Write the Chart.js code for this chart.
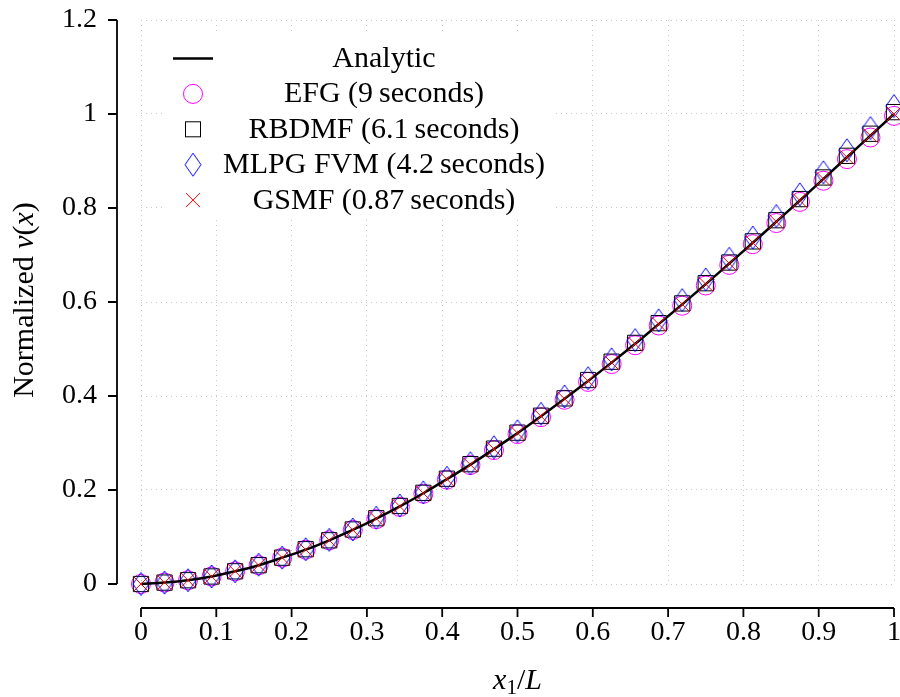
<!DOCTYPE html>
<html>
<head>
<meta charset="utf-8">
<script src="https://cdn.jsdelivr.net/npm/chart.js@4.4.1/dist/chart.umd.min.js"></script>
<style>
  html, body { margin: 0; padding: 0; background: #fff; }
  canvas { display: block; }
</style>
</head>
<body>
<canvas id="beamChart" width="900" height="697"></canvas>
<script>
// ---------------------------------------------------------------
// Data: normalized deflection along the beam, 33 nodes
// ---------------------------------------------------------------
const xNodes = [0, 0.03125, 0.0625, 0.09375, 0.125, 0.15625, 0.1875, 0.21875,
  0.25, 0.28125, 0.3125, 0.34375, 0.375, 0.40625, 0.4375, 0.46875,
  0.5, 0.53125, 0.5625, 0.59375, 0.625, 0.65625, 0.6875, 0.71875,
  0.75, 0.78125, 0.8125, 0.84375, 0.875, 0.90625, 0.9375, 0.96875, 1];

const analytic = [0, 0.003, 0.008, 0.016, 0.027, 0.040, 0.056, 0.073, 0.093, 0.115, 0.139,
  0.165, 0.193, 0.223, 0.254, 0.287, 0.321, 0.357, 0.394, 0.432, 0.471, 0.511,
  0.553, 0.595, 0.638, 0.682, 0.726, 0.771, 0.816, 0.862, 0.908, 0.954, 1.000];

const efg = [0, 0.003, 0.008, 0.016, 0.027, 0.040, 0.056, 0.073, 0.093, 0.115, 0.138,
  0.164, 0.192, 0.222, 0.253, 0.285, 0.319, 0.355, 0.392, 0.430, 0.468, 0.508,
  0.550, 0.592, 0.635, 0.679, 0.723, 0.768, 0.813, 0.858, 0.904, 0.950, 0.996];

const rbdmf = [0, 0.003, 0.008, 0.016, 0.027, 0.040, 0.056, 0.074, 0.093, 0.116, 0.140,
  0.166, 0.194, 0.224, 0.255, 0.288, 0.322, 0.358, 0.395, 0.434, 0.473, 0.513,
  0.555, 0.597, 0.640, 0.684, 0.729, 0.774, 0.819, 0.865, 0.911, 0.958, 1.004];

const mlpgFvm = [0, 0.003, 0.008, 0.016, 0.027, 0.041, 0.056, 0.074, 0.094, 0.116, 0.141,
  0.167, 0.195, 0.226, 0.257, 0.291, 0.325, 0.362, 0.399, 0.438, 0.478, 0.519,
  0.561, 0.604, 0.648, 0.692, 0.737, 0.783, 0.829, 0.876, 0.923, 0.970, 1.017];

const gsmf = [0, 0.003, 0.008, 0.016, 0.027, 0.040, 0.056, 0.073, 0.093, 0.115, 0.139,
  0.165, 0.193, 0.223, 0.254, 0.287, 0.321, 0.357, 0.394, 0.432, 0.471, 0.511,
  0.553, 0.595, 0.638, 0.682, 0.726, 0.771, 0.816, 0.862, 0.908, 0.954, 1.000];

const seriesLabels = ['Analytic', 'EFG (9\u2009seconds)', 'RBDMF (6.1\u2009seconds)',
  'MLPG FVM (4.2\u2009seconds)', 'GSMF (0.87\u2009seconds)'];

const xTicks = [0, 0.1, 0.2, 0.3, 0.4, 0.5, 0.6, 0.7, 0.8, 0.9, 1];
const xTickLabels = ['0', '0.1', '0.2', '0.3', '0.4', '0.5', '0.6', '0.7', '0.8', '0.9', '1'];
const yTicks = [0, 0.2, 0.4, 0.6, 0.8, 1, 1.2];
const yTickLabels = ['0', '0.2', '0.4', '0.6', '0.8', '1', '1.2'];

// ---------------------------------------------------------------
// Styling helpers
// ---------------------------------------------------------------
const FONT = '"Liberation Serif", "Times New Roman", serif';
const MAGENTA = '#ff00ff', BLUE = '#0000ff', RED = '#ff0000';

function thinDiamond(color) {
  const c = document.createElement('canvas');
  c.width = 18; c.height = 25;
  const g = c.getContext('2d');
  g.strokeStyle = color;
  g.lineWidth = 1;
  g.beginPath();
  g.moveTo(9, 1); g.lineTo(17, 12.5); g.lineTo(9, 24); g.lineTo(1, 12.5);
  g.closePath();
  g.stroke();
  return c;
}
const diamondImg = thinDiamond(BLUE);

const toPoints = ys => xNodes.map((x, i) => ({ x: x, y: ys[i] }));

// draws a run of text pieces (regular / italic / subscript) centred on cx
function drawRuns(ctx, runs, cx, cy) {
  let total = 0;
  runs.forEach(r => {
    ctx.font = (r.italic ? 'italic ' : '') + r.size + 'px ' + FONT;
    r.w = ctx.measureText(r.t).width;
    total += r.w;
  });
  let x = cx - total / 2;
  ctx.textAlign = 'left';
  ctx.textBaseline = 'alphabetic';
  runs.forEach(r => {
    ctx.font = (r.italic ? 'italic ' : '') + r.size + 'px ' + FONT;
    ctx.fillText(r.t, x, cy + (r.dy || 0));
    x += r.w;
  });
}

// ---------------------------------------------------------------
// Plugin: detached axis spines, axis titles and the legend
// ---------------------------------------------------------------
const decorPlugin = {
  id: 'decor',
  afterDraw(chart) {
    const { ctx, chartArea: a, scales: { x, y } } = chart;
    const gap = 24, tick = 9;
    ctx.save();
    ctx.strokeStyle = '#000';
    ctx.lineWidth = 1.8;
    ctx.lineCap = 'butt';

    // y spine
    const sx = a.left - gap;
    ctx.beginPath();
    ctx.moveTo(sx, y.getPixelForValue(yTicks[0]));
    ctx.lineTo(sx, y.getPixelForValue(yTicks[yTicks.length - 1]));
    yTicks.forEach(v => {
      const py = y.getPixelForValue(v);
      ctx.moveTo(sx, py);
      ctx.lineTo(sx - tick, py);
    });
    ctx.stroke();

    // x spine
    const sy = a.bottom + gap;
    ctx.beginPath();
    ctx.moveTo(x.getPixelForValue(xTicks[0]), sy);
    ctx.lineTo(x.getPixelForValue(xTicks[xTicks.length - 1]), sy);
    xTicks.forEach(v => {
      const px = x.getPixelForValue(v);
      ctx.moveTo(px, sy);
      ctx.lineTo(px, sy + tick);
    });
    ctx.stroke();

    // axis titles
    ctx.fillStyle = '#000';
    drawRuns(ctx, [
      { t: 'x', italic: true, size: 30 },
      { t: '1', size: 21, dy: 5 },
      { t: '/', size: 30 },
      { t: 'L', italic: true, size: 30 }
    ], (a.left + a.right) / 2, 689);

    ctx.save();
    ctx.translate(33, 300);
    ctx.rotate(-Math.PI / 2);
    drawRuns(ctx, [
      { t: 'Normalized ', size: 30 },
      { t: 'v', italic: true, size: 30 },
      { t: '(', size: 30 },
      { t: 'x', italic: true, size: 30 },
      { t: ')', size: 30 }
    ], 0, 0);
    ctx.restore();

    // legend
    ctx.fillStyle = '#fff';
    ctx.fillRect(164, 35, 392, 182);
    const symX = 193, textX = 384, base0 = 67, step = 35.4;
    seriesLabels.forEach((label, i) => {
      const base = base0 + step * i;
      const cy = base - 8.5;
      ctx.lineWidth = 1;
      if (i === 0) {
        ctx.strokeStyle = '#000';
        ctx.lineWidth = 2.5;
        ctx.beginPath(); ctx.moveTo(173, cy); ctx.lineTo(213, cy); ctx.stroke();
      } else if (i === 1) {
        ctx.strokeStyle = MAGENTA;
        ctx.beginPath(); ctx.arc(symX, cy, 9.5, 0, Math.PI * 2); ctx.stroke();
      } else if (i === 2) {
        ctx.strokeStyle = '#000';
        ctx.strokeRect(symX - 7.5, cy - 7.5, 15, 15);
      } else if (i === 3) {
        ctx.drawImage(diamondImg, symX - 9, cy - 12.5);
      } else {
        ctx.strokeStyle = RED;
        ctx.beginPath();
        ctx.moveTo(symX - 7, cy - 7); ctx.lineTo(symX + 7, cy + 7);
        ctx.moveTo(symX + 7, cy - 7); ctx.lineTo(symX - 7, cy + 7);
        ctx.stroke();
      }
      ctx.fillStyle = '#000';
      ctx.font = '30px ' + FONT;
      ctx.textAlign = 'center';
      ctx.textBaseline = 'alphabetic';
      ctx.fillText(label, textX, base);
    });
    ctx.restore();
  }
};

// ---------------------------------------------------------------
// Chart
// ---------------------------------------------------------------
const gridStyle = { color: '#c8c8c8', lineWidth: 1, drawTicks: false };
const tickFont = { family: FONT, size: 28 };

const ctx = document.getElementById('beamChart').getContext('2d');
window.beamChart = new Chart(ctx, {
  type: 'scatter',
  data: {
    datasets: [
      {
        label: seriesLabels[0], data: toPoints(analytic), showLine: true,
        borderColor: '#000', borderWidth: 2.5, pointRadius: 0,
        cubicInterpolationMode: 'monotone', order: 2, clip: false
      },
      {
        label: seriesLabels[1], data: toPoints(efg), pointStyle: 'circle', pointRadius: 9.5,
        borderColor: MAGENTA, backgroundColor: 'transparent', borderWidth: 1, order: 5, clip: false
      },
      {
        label: seriesLabels[2], data: toPoints(rbdmf), pointStyle: 'rect', pointRadius: 10.8,
        borderColor: '#000', backgroundColor: 'transparent', borderWidth: 1, order: 4, clip: false
      },
      {
        label: seriesLabels[3], data: toPoints(mlpgFvm), pointStyle: diamondImg, pointRadius: 10,
        borderColor: BLUE, backgroundColor: 'transparent', borderWidth: 1, order: 3, clip: false
      },
      {
        label: seriesLabels[4], data: toPoints(gsmf), pointStyle: 'crossRot', pointRadius: 10,
        borderColor: RED, backgroundColor: 'transparent', borderWidth: 1, order: 1, clip: false
      }
    ]
  },
  options: {
    responsive: false,
    animation: false,
    events: [],
    layout: { autoPadding: false, padding: { left: 0, right: 6, top: 20, bottom: 0 } },
    plugins: { legend: { display: false }, tooltip: { enabled: false } },
    scales: {
      x: {
        type: 'linear', min: 0, max: 1,
        afterBuildTicks: s => { s.ticks = xTicks.map(v => ({ value: v })); },
        afterFit: s => { s.height = 113; s.paddingLeft = 0; s.paddingRight = 0; },
        grid: gridStyle,
        border: { display: false, dash: [1, 4] },
        ticks: {
          padding: 32, color: '#000', font: tickFont, maxRotation: 0, autoSkip: false,
          callback: (v, i) => xTickLabels[i]
        }
      },
      y: {
        type: 'linear', min: 0, max: 1.2,
        afterBuildTicks: s => { s.ticks = yTicks.map(v => ({ value: v })); },
        afterFit: s => { s.width = 141; s.paddingTop = 0; s.paddingBottom = 0; },
        grid: gridStyle,
        border: { display: false, dash: [1, 4] },
        ticks: {
          padding: 44, color: '#000', font: tickFont, autoSkip: false,
          callback: (v, i) => yTickLabels[i]
        }
      }
    }
  },
  plugins: [decorPlugin]
});
</script>
</body>
</html>
